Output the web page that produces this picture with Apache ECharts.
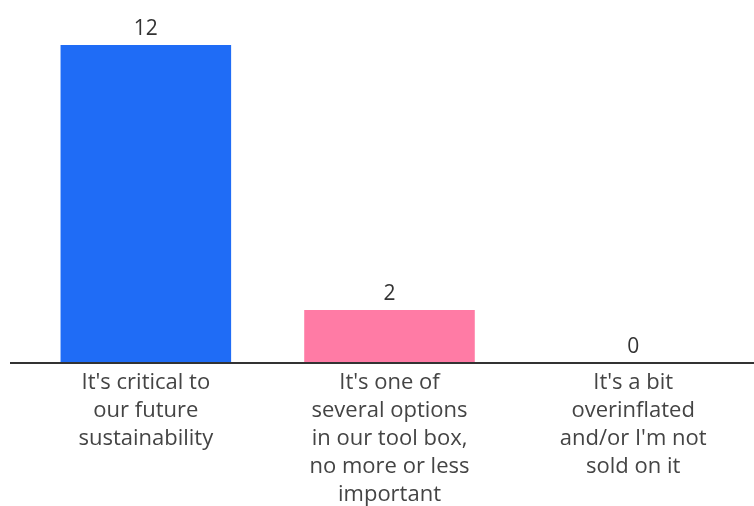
<!DOCTYPE html>
<html><head><meta charset="utf-8">
<script src="https://cdn.jsdelivr.net/npm/echarts@6/dist/echarts.min.js"></script>
<style>html,body{margin:0;padding:0;background:#fff}#c{width:754px;height:506px}</style>
</head><body><div id="c"></div>
<script>
const categories = [
  "It's critical to\nour future\nsustainability",
  "It's one of\nseveral options\nin our tool box,\nno more or less\nimportant",
  "It's a bit\noverinflated\nand/or I'm not\nsold on it"
];
const values = [12, 2, 0];
const barColors = ['#1f6cf6', '#ff7ba5', '#999999'];

const chart = echarts.init(document.getElementById('c'));
const font = '"Open Sans", sans-serif';
chart.setOption({
  animation: false,
  grid: {left: 24, right: -1, top: 45, bottom: 143, containLabel: false, outerBoundsMode: 'none'},
  xAxis: {
    type: 'category', data: categories,
    axisLine: {show: false}, axisTick: {show: false},
    axisLabel: {color: '#444', fontSize: 22, lineHeight: 28, margin: 6, fontFamily: font, interval: 0}
  },
  yAxis: {type: 'value', min: 0, max: 12, show: false, splitLine: {show: false}},
  series: [{
    type: 'bar', barWidth: '70%',
    data: values.map((v, i) => ({value: v, itemStyle: {color: barColors[i]}})),
    label: {show: true, position: 'top', distance: 5, color: '#333', fontSize: 21, fontFamily: font}
  }]
});
const y0 = chart.convertToPixel({yAxisIndex: 0}, 0);
chart.setOption({
  graphic: [{type: 'line', shape: {x1: 10, y1: y0, x2: 754, y2: y0}, style: {stroke: '#333', lineWidth: 2}, z: 10}]
});
</script></body></html>
